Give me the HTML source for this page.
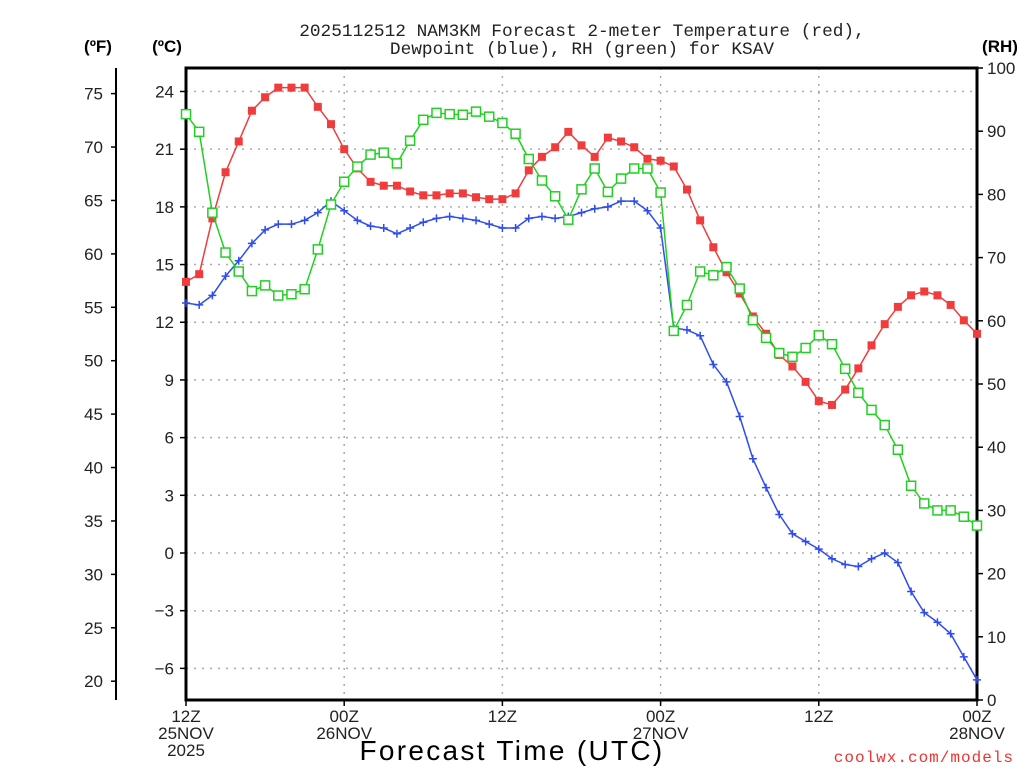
<!DOCTYPE html>
<html><head><meta charset="utf-8"><style>
html,body{margin:0;padding:0;background:#fff;}
svg{display:block;font-family:"Liberation Sans",sans-serif;}
</style></head><body>
<svg id="chart" width="1024" height="768" viewBox="0 0 1024 768" xmlns="http://www.w3.org/2000/svg">
<g fill="#222" font-size="17.8" text-anchor="middle" font-family="Liberation Mono, monospace">
<text x="582" y="36">2025112512 NAM3KM Forecast 2-meter Temperature (red),</text>
<text x="582" y="54">Dewpoint (blue), RH (green) for KSAV</text>
</g>
<text x="98" y="52" font-size="17" font-weight="bold" text-anchor="middle">(ºF)</text>
<text x="167" y="52" font-size="17" font-weight="bold" text-anchor="middle">(ºC)</text>
<text x="1000" y="52" font-size="17" font-weight="bold" text-anchor="middle">(RH)</text>
<text x="512" y="760" font-size="28" text-anchor="middle" fill="#000" letter-spacing="2.3">Forecast Time (UTC)</text>
<text x="1014" y="762" font-size="16" text-anchor="end" fill="#ee3333" letter-spacing="1" font-family="Liberation Mono, monospace">coolwx.com/models</text>
<g id="grid"></g><g id="axes"></g><g id="series"></g>
</svg>
<script>
const hours = [];
for (let h = 0; h <= 60; h++) hours.push(h);
const tempC = [14.1,14.5,17.4,19.8,21.4,23.0,23.7,24.2,24.2,24.2,23.2,22.3,21.0,20.0,19.3,19.1,19.1,18.8,18.6,18.6,18.7,18.7,18.5,18.4,18.4,18.7,19.9,20.6,21.1,21.9,21.2,20.6,21.6,21.4,21.1,20.5,20.4,20.1,18.9,17.3,15.9,14.6,13.5,12.3,11.4,10.3,9.7,8.9,7.9,7.7,8.5,9.6,10.8,11.9,12.8,13.4,13.6,13.4,12.9,12.1,11.4];
const dewC = [13.0,12.9,13.4,14.4,15.2,16.1,16.8,17.1,17.1,17.3,17.7,18.3,17.8,17.3,17.0,16.9,16.6,16.9,17.2,17.4,17.5,17.4,17.3,17.1,16.9,16.9,17.4,17.5,17.4,17.5,17.7,17.9,18.0,18.3,18.3,17.8,16.9,11.7,11.6,11.3,9.8,8.9,7.1,4.9,3.4,2.0,1.0,0.6,0.2,-0.3,-0.6,-0.7,-0.3,0.0,-0.5,-2.0,-3.1,-3.6,-4.2,-5.4,-6.6];
const rh = [92.7,89.9,77.1,70.8,67.8,64.7,65.6,64.0,64.2,65.0,71.3,78.4,82.0,84.4,86.3,86.6,84.9,88.5,91.8,92.9,92.7,92.6,93.1,92.3,91.3,89.6,85.6,82.2,79.7,76.0,80.8,84.1,80.4,82.5,84.1,84.1,80.3,58.4,62.5,67.8,67.2,68.5,65.1,60.1,57.3,54.9,54.3,55.7,57.7,56.3,52.4,48.6,45.9,43.5,39.6,33.9,31.1,30.0,30.0,29.0,27.6];
const cTicks = [24,21,18,15,12,9,6,3,0,-3,-6];
const fTicks = [75,70,65,60,55,50,45,40,35,30,25,20];
const rhTicks = [0,10,20,30,40,50,60,70,80,90,100];
const xTickHours = [0,12,24,36,48,60];
const xTickLabels = [["12Z","25NOV","2025"],["00Z","26NOV"],["12Z"],["00Z","27NOV"],["12Z"],["00Z","28NOV"]];

const L=186,R=977,T=68,B=700;
const NS="http://www.w3.org/2000/svg";
const xs = h => L + (R-L)*h/60;
const yC = c => 553 - c*19.23;
const yF = f => yC((f-32)*5/9);
const yRH = r => B - (B-T)*r/100;
function mk(tag, attrs, parent){const e=document.createElementNS(NS,tag);for(const k in attrs)e.setAttribute(k,attrs[k]);parent.appendChild(e);return e;}
const grid=document.getElementById('grid'),axes=document.getElementById('axes'),ser=document.getElementById('series');

cTicks.forEach(c=>{
  const y=yC(c);
  const g=mk('line',{x1:L,x2:R,y1:y,y2:y,stroke:'#aaa','stroke-width':1.5,'stroke-dasharray':'2,6'},grid);
  
  
  mk('line',{x1:L-6,x2:L,y1:y,y2:y,stroke:'#000','stroke-width':1.5},axes);
  const t=mk('text',{x:L-12,y:y+6,'font-size':17,'text-anchor':'end',fill:'#222'},axes);
  t.textContent=c<0?'\u2212'+(-c):String(c);
  
  
});
xTickHours.forEach((h,i)=>{
  const x=xs(h);
  if(i>0&&i<xTickHours.length-1){
    const g=mk('line',{x1:x,x2:x,y1:T,y2:B,stroke:'#aaa','stroke-width':1.5,'stroke-dasharray':'2,6'},grid);
    
    
  }
  mk('line',{x1:x,x2:x,y1:B,y2:B+6,stroke:'#000','stroke-width':1.5},axes);
  xTickLabels[i].forEach((s,j)=>{
    const t=mk('text',{x:x,y:B+22+j*17,'font-size':17,'text-anchor':'middle',fill:'#222'},axes);
    t.textContent=s;
    
    
  });
});
fTicks.forEach(f=>{
  const y=yF(f);
  mk('line',{x1:111,x2:116,y1:y,y2:y,stroke:'#000','stroke-width':1.5},axes);
  const t=mk('text',{x:103,y:y+6,'font-size':17,'text-anchor':'end',fill:'#222'},axes);
  t.textContent=String(f);
  
  
});
mk('line',{x1:116,x2:116,y1:T,y2:B,stroke:'#000','stroke-width':2},axes);
rhTicks.forEach(r=>{
  const y=yRH(r);
  mk('line',{x1:R,x2:R+6,y1:y,y2:y,stroke:'#000','stroke-width':1.5},axes);
  const t=mk('text',{x:R+10,y:y+6,'font-size':17,'text-anchor':'start',fill:'#222'},axes);
  t.textContent=String(r);
  
  
});
const box=mk('rect',{x:L,y:T,width:R-L,height:B-T,fill:'none',stroke:'#000','stroke-width':3},axes);



function drawSeries(vals, yfn, color, kind, name){
  const g=mk('g',{},ser);
  
  
  mk('polyline',{points:vals.map((v,i)=>xs(hours[i])+','+yfn(v)).join(' '),fill:'none',stroke:color,'stroke-width':1.5},g);
  vals.forEach((v,i)=>{
    const x=xs(hours[i]),y=yfn(v);
    let m;
    if(kind==='fill') m=mk('rect',{x:x-4,y:y-4,width:8,height:8,fill:color},g);
    else if(kind==='open') m=mk('rect',{x:x-4.5,y:y-4.5,width:9,height:9,fill:'#fff',stroke:color,'stroke-width':1.5},g);
    else m=mk('path',{d:`M${x-4},${y}H${x+4}M${x},${y-4}V${y+4}`,stroke:color,'stroke-width':1.5},g);
    
    
  });
}
drawSeries(tempC,yC,'#f03c3c','fill','temperature-series');
drawSeries(dewC,yC,'#2e4cf0','plus','dewpoint-series');
drawSeries(rh,yRH,'#22d022','open','rh-series');
</script>
</body></html>
